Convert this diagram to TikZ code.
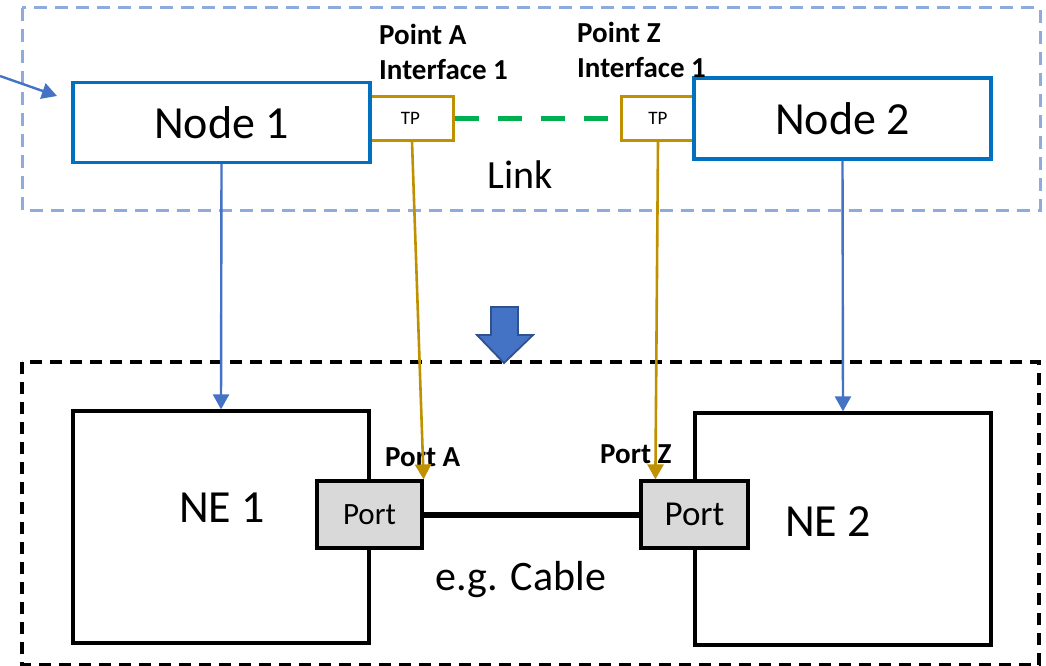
\documentclass[tikz,border=0pt]{standalone}
\usepackage{fontspec}
\setmainfont{Carlito}
\usetikzlibrary{arrows.meta}
\definecolor{nodeblue}{HTML}{0070C0}
\definecolor{lineblue}{HTML}{4472C4}
\definecolor{dashblue}{HTML}{8FAADC}
\definecolor{gold}{HTML}{BF9000}
\definecolor{linkgreen}{HTML}{00B050}
\definecolor{portgrey}{HTML}{D9D9D9}
\definecolor{arrowedge}{HTML}{2F528F}
\tikzset{
  nodebox/.style={draw=nodeblue, line width=3.2pt, fill=white, inner sep=0pt, font=\fontsize{46}{50}\selectfont},
  tpbox/.style={draw=gold, line width=3pt, inner sep=0pt, font=\fontsize{19}{22}\selectfont},
  nebox/.style={draw=black, line width=3.2pt, inner sep=0pt},
  portbox/.style={draw=black, line width=3.2pt, fill=portgrey, inner sep=0pt},
  boldlabel/.style={font=\fontsize{29}{32}\selectfont\bfseries, inner sep=0pt},
  bigtext/.style={inner sep=0pt},
  bluearrow/.style={draw=lineblue, line width=2.4pt, -{Triangle[length=15pt,width=16pt]}},
  goldarrow/.style={draw=gold, line width=2.6pt, -{Triangle[length=15pt,width=16pt]}},
}
\begin{document}
\begin{tikzpicture}[x=1pt,y=-1pt]
\useasboundingbox (0,0) rectangle (1046,666);
% frames
\draw[dashblue, line width=3pt, dash pattern=on 13pt off 8pt] (22,8) rectangle (1040,210);
\draw[black, line width=3.4pt, dash pattern=on 12pt off 8pt] (22,362) rectangle (1039,665);
% top boxes
\node[tpbox, minimum width=85pt, minimum height=43pt] (tpa) at (410.5,118.5) {TP};
\node[tpbox, minimum width=74pt, minimum height=43pt] (tpz) at (658,118.5) {TP};
\node[nodebox, minimum width=297pt, minimum height=80pt] (node1) at (221.5,122.5) {Node 1};
\node[nodebox, minimum width=297pt, minimum height=81pt] (node2) at (842.5,118.5) {Node 2};
% labels
\node[boldlabel, anchor=base west] (pa1) at (379,45) {Point A};
\node[boldlabel, anchor=base west] (pa2) at (379,80) {Interface 1};
\node[boldlabel, anchor=base west] (pz1) at (577,43) {Point Z};
\node[boldlabel, anchor=base west] (pz2) at (577,78) {Interface 1};
\node[bigtext, font=\fontsize{40}{44}\selectfont] (link) at (520,175) {Link};
% link
\draw[linkgreen, line width=5pt, dash pattern=on 24pt off 19pt] (tpa.east) -- (tpz.west);
% incoming arrow
\coordinate (inc) at (0,76);
\draw[bluearrow] (inc) -- (57,96);
% bottom boxes
\node[nebox, minimum width=296pt, minimum height=232pt] (ne1) at (221,527) {};
\node[nebox, minimum width=296pt, minimum height=232pt] (ne2) at (843,529) {};
\node[bigtext, font=\fontsize{46}{50}\selectfont] (ne1t) at (222,508) {NE 1};
\node[bigtext, font=\fontsize{46}{50}\selectfont] (ne2t) at (828,522) {NE 2};
\node[portbox, minimum width=105pt, minimum height=67pt, font=\fontsize{31}{34}\selectfont] (porta) at (369.5,514.5) {Port};
\node[portbox, minimum width=107pt, minimum height=67pt, font=\fontsize{35}{38}\selectfont] (portz) at (694.5,514.5) {Port};
\draw[black, line width=6pt] (porta.east) -- (portz.west);
\node[boldlabel, anchor=base west] (pla) at (385,466) {Port A};
\node[boldlabel, anchor=base west] (plz) at (600,463) {Port Z};
\node[bigtext, font=\fontsize{42}{46}\selectfont] (cable) at (521,580) {e.g. Cable};
% connectors
\draw[bluearrow] (node1.south) -- (ne1.north);
\draw[bluearrow] (node2.south) -- (ne2.north);
\draw[goldarrow] ([xshift=1.5pt]tpa.south) -- (porta.north east);
\draw[goldarrow] (tpz.south) -- ([xshift=16pt]portz.north west);
% block arrow
\draw[arrowedge, fill=lineblue, line width=1.8pt, line join=miter]
  (491,307) -- (518,307) -- (518,335) -- (533,335) -- (504,363) -- (477,335) -- (491,335) -- cycle;
\end{tikzpicture}
\end{document}
